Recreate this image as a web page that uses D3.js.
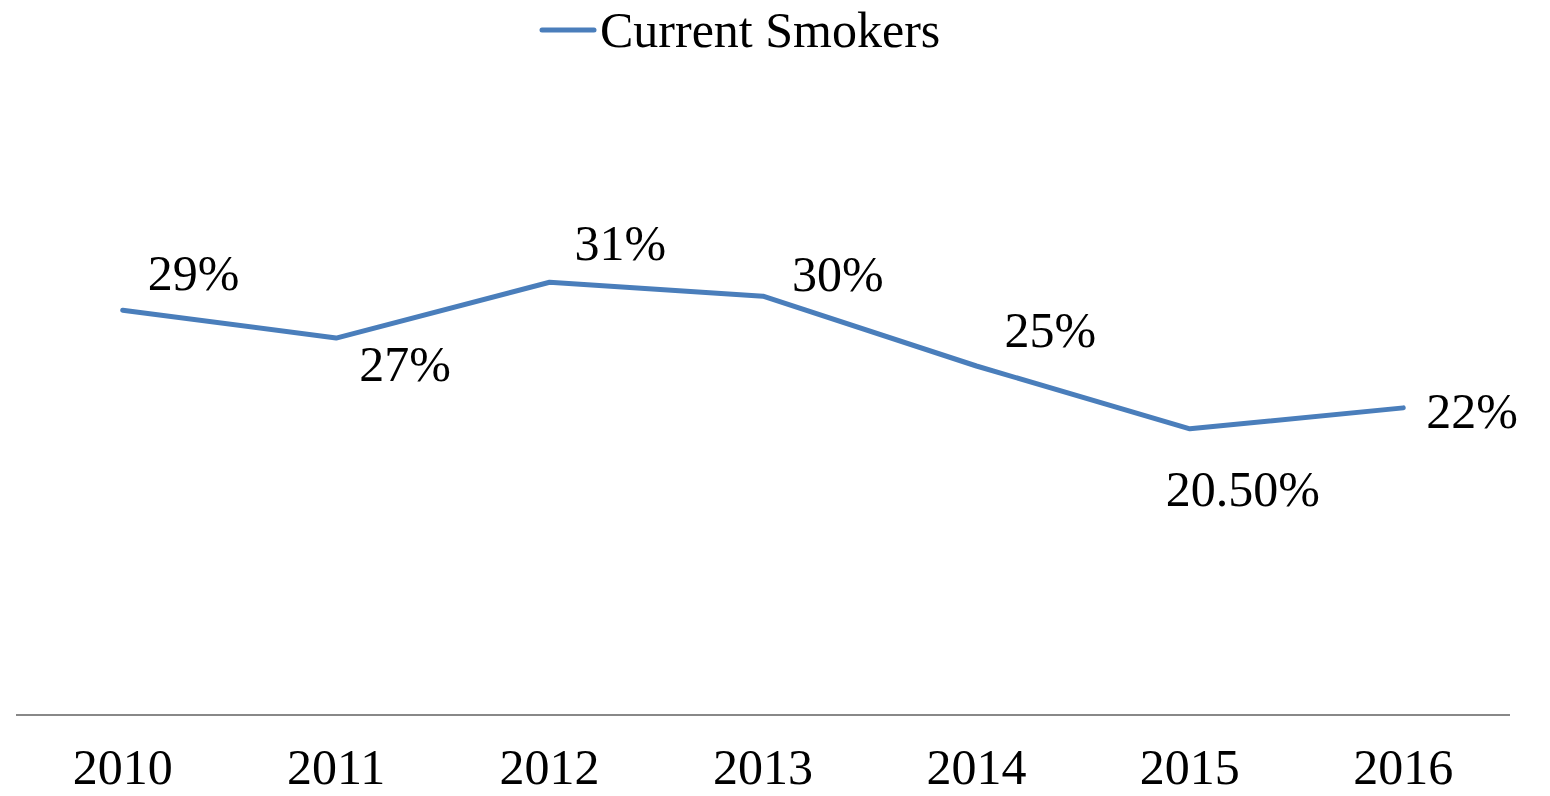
<!DOCTYPE html>
<html>
<head>
<meta charset="utf-8">
<script src="https://cdn.jsdelivr.net/npm/d3@7"></script>
<style>
  html, body { margin: 0; padding: 0; background: #fff; }
  svg { display: block; }
  text { font-family: "Liberation Serif", "Times New Roman", serif; fill: #000; }
</style>
</head>
<body>
<svg id="chart" width="1550" height="796"></svg>
<script>
// ---- data ----
const years = ["2010", "2011", "2012", "2013", "2014", "2015", "2016"];
const currentSmokers = [0.29, 0.27, 0.31, 0.30, 0.25, 0.205, 0.22];
const valueLabels = ["29%", "27%", "31%", "30%", "25%", "20.50%", "22%"];
const seriesName = "Current Smokers";

// ---- label placement (style, not data) ----
const labelOffsets = [
  [25, -20], [23, 43], [25, -22], [29, -5], [28, -19], [-24, 77], [23, 20]
];

const svg = d3.select("#chart");
const fontSize = 50;
const lineColor = "#4A7EBB";

const x = d3.scaleBand().domain(years).range([16, 1510]).padding(0);
const y = d3.scaleLinear().domain([0, 0.5]).range([715, 17]);

// axis line
svg.append("line")
  .attr("x1", 16).attr("x2", 1510)
  .attr("y1", y(0)).attr("y2", y(0))
  .attr("stroke", "#888").attr("stroke-width", 2);

// category labels
svg.append("g").selectAll("text")
  .data(years)
  .join("text")
  .attr("x", d => x(d) + x.bandwidth() / 2)
  .attr("y", 784)
  .attr("text-anchor", "middle")
  .attr("font-size", fontSize)
  .text(d => d);

// line
const pts = years.map((yr, i) => ({ yr, v: currentSmokers[i], label: valueLabels[i], off: labelOffsets[i] }));
const line = d3.line()
  .x(d => x(d.yr) + x.bandwidth() / 2)
  .y(d => y(d.v));

svg.append("path")
  .datum(pts)
  .attr("d", line)
  .attr("fill", "none")
  .attr("stroke", lineColor)
  .attr("stroke-width", 5)
  .attr("stroke-linejoin", "round")
  .attr("stroke-linecap", "round");

// data labels
svg.append("g").selectAll("text")
  .data(pts)
  .join("text")
  .attr("x", d => x(d.yr) + x.bandwidth() / 2 + d.off[0])
  .attr("y", d => y(d.v) + d.off[1])
  .attr("font-size", fontSize)
  .text(d => d.label);

// legend
const lg = svg.append("g");
lg.append("line")
  .attr("x1", 542).attr("x2", 594)
  .attr("y1", 30).attr("y2", 30)
  .attr("stroke", lineColor).attr("stroke-width", 5)
  .attr("stroke-linecap", "round");
lg.append("text")
  .attr("x", 600).attr("y", 47)
  .attr("font-size", fontSize)
  .text(seriesName);
</script>
</body>
</html>
